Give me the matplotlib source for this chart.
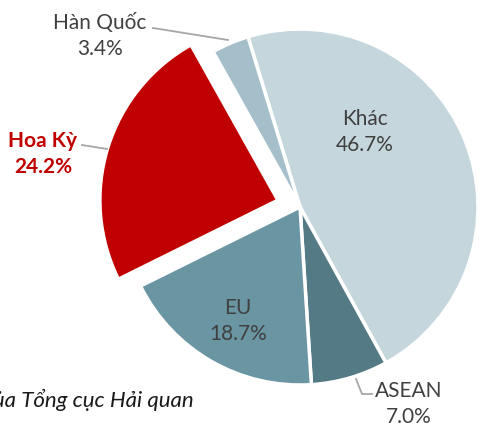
import matplotlib.pyplot as plt

# export structure by market, clockwise from the top
labels = ['Khác', 'ASEAN', 'EU', 'Hoa Kỳ', 'Hàn Quốc']
shares = [46.7, 7.0, 18.7, 24.2, 3.4]
colors = ['#C5D6DD', '#547A85', '#6A95A3', '#C00000', '#A5BFCA']
explode = [0, 0, 0, 0.13, 0]

plt.rcParams['font.family'] = ['Lato', 'DejaVu Sans']

W, H = 479, 423
fig = plt.figure(figsize=(W / 100, H / 100), dpi=100)
ax = fig.add_axes([0, 0, 1, 1])

cx, cy, r = 300, 216, 178
# pie's explode is in data units, so scale the fractions by the radius
ax.pie(shares, colors=colors, explode=[e * r for e in explode], startangle=107,
       counterclock=False, center=(cx, cy), radius=r, frame=True,
       wedgeprops=dict(edgecolor='white', linewidth=2.5))
ax.set_xlim(0, W)
ax.set_ylim(0, H)
ax.set_aspect('equal')
ax.axis('off')

def lbl(i):
    return f"{labels[i]}\n{shares[i]:.1f}%"

grey = '#404040'
fs = 15
ax.text(365, H - 132, lbl(0), ha='center', va='center', fontsize=fs, color=grey, linespacing=1.35)
ax.text(238, H - 321, lbl(2), ha='center', va='center', fontsize=fs, color=grey, linespacing=1.35)
ax.text(100, H - 36, lbl(4), ha='center', va='center', fontsize=fs, color=grey, linespacing=1.35)
ax.text(43, H - 154, lbl(3), ha='center', va='center', fontsize=fs, color='#C00000',
        fontweight='bold', linespacing=1.35)
ax.text(409, H - 404, lbl(1), ha='center', va='center', fontsize=fs, color=grey, linespacing=1.35)

# leader lines
lc = '#A6A6A6'
ax.plot([153, 228], [H - 28, H - 40], color=lc, lw=1.3)
ax.plot([82, 107], [H - 145, H - 149], color=lc, lw=1.3)
ax.plot([356, 362, 372], [H - 379, H - 394, H - 394], color=lc, lw=1.3)

ax.text(194, H - 407, 'Nguồn: Tổng hợp từ số liệu của Tổng cục Hải quan', ha='right',
        va='baseline', fontsize=16, style='italic', color='#1a1a1a')

fig.savefig('out.png', dpi=100)
